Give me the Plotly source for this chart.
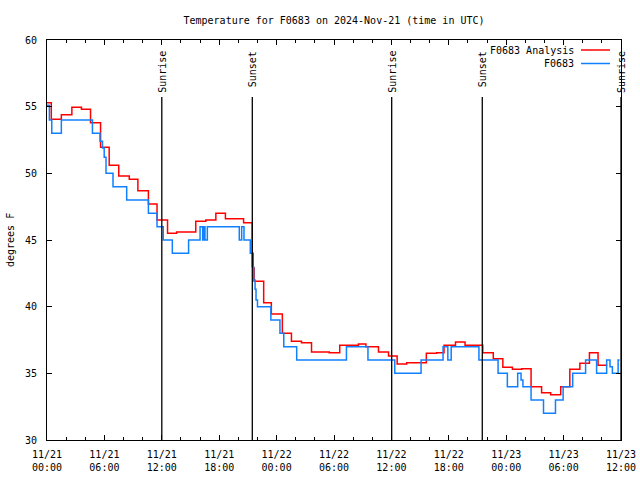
import pandas as pd
import plotly.graph_objects as go

# ---- data (hours after 2024-11-21 00:00 UTC) ----
ana_hours = [0, 0.45, 1.5, 2.6, 3.6, 4.55, 5.6, 6.5, 7.5, 8.6, 9.5, 10.6, 11.5, 12.6, 13.55,
             15.55, 16.6, 17.65, 18.65, 20.55, 21.45, 21.55, 21.65, 22.65, 23.45, 24.6, 25.55,
             26.6, 27.65, 29.5, 30.6, 32.55, 33.34, 34.65, 35.7, 36.6, 37.6, 39.65, 40.73, 41.5,
             42.7, 43.7, 45.55, 46.65, 47.65, 48.65, 49.62, 50.6, 51.7, 52.65, 53.7, 54.65,
             55.7, 56.7, 57.6, 58.57]
ana_temp = [55.3, 54.05, 54.4, 54.95, 54.8, 53.8, 51.95, 50.6, 49.8, 49.55, 48.7, 47.7, 46.5,
            45.5, 45.6, 46.4, 46.5, 47.0, 46.6, 46.3, 44.0, 42.9, 41.9, 40.3, 39.45, 38.0, 37.4,
            37.3, 36.6, 36.55, 37.1, 37.2, 37.0, 36.6, 36.3, 35.7, 35.8, 36.5, 36.55, 37.1,
            37.35, 37.1, 36.55, 36.1, 35.45, 35.3, 35.35, 34.0, 33.55, 33.4, 34.0, 35.3,
            35.75, 36.55, 35.6, 35.6]

obs_hours = [0, 0.25, 0.5, 1.5, 4.75, 5.54, 5.8, 5.98, 6.17, 6.9, 8.33, 10.6, 11.5, 12.15,
             13.1, 14.8, 16.0, 16.27, 16.41, 16.51, 16.76, 20.1, 20.35, 20.59, 21.25, 21.45,
             21.6, 21.75, 21.85, 22.0, 23.4, 24.35, 24.75, 26.1, 31.3, 33.55, 36.35, 39.1,
             41.4, 41.9, 42.25, 45.15, 47.15, 48.12, 49.2, 49.55, 49.75, 50.6, 51.9, 53.15,
             53.95, 54.95, 56.3, 57.45, 58.5, 58.85, 59.1, 59.7, 59.85]
obs_temp = [55.1, 54, 53, 54, 53, 52.4, 51.9, 51.2, 50, 49, 48, 47, 46, 45, 44, 45, 46, 45,
            46, 45, 46, 45, 46, 45, 44, 43, 42, 41.3, 40.5, 40, 39, 38, 37, 36, 37, 36, 35,
            36, 37, 36, 37, 36, 35, 34, 35, 34.5, 34, 33, 32, 33, 34, 35, 36, 35, 36, 35.5,
            35, 36, 36]

sun_hours = [12.0, 21.46, 36.03, 45.5, 60.0]
sun_labels = ["Sunrise", "Sunset", "Sunrise", "Sunset", "Sunrise"]

series_names = ["F0683 Analysis", "F0683"]
series_colors = ["#ff0000", "#1080ff"]

title_text = "Temperature for F0683 on 2024-Nov-21 (time in UTC)"
y_label = "degrees F"

t0 = pd.Timestamp("2024-11-21 00:00")
def to_time(hours):
    return [t0 + pd.Timedelta(hours=h) for h in hours]

FONT = "DejaVu Sans Mono"
LW = 1.5

fig = go.Figure()
fig.add_trace(go.Scatter(x=to_time(ana_hours), y=ana_temp, mode="lines", line_shape="hv",
                         line=dict(color=series_colors[0], width=LW), name=series_names[0]))
fig.add_trace(go.Scatter(x=to_time(obs_hours), y=obs_temp, mode="lines", line_shape="hv",
                         line=dict(color=series_colors[1], width=LW), name=series_names[1]))

# plot-area geometry in px (for paper conversion of decorations)
L, R, T, B = 47, 19, 40, 40
PW, PH = 640 - L - R, 480 - T - B

shapes = []
annotations = []
for h, lab in zip(sun_hours, sun_labels):
    tx = t0 + pd.Timedelta(hours=h)
    shapes.append(dict(type="line", xref="x", yref="paper", x0=tx, x1=tx,
                       y0=0, y1=(440 - 97) / PH, line=dict(color="black", width=1.3)))
    annotations.append(dict(x=tx, y=(440 - 49) / PH, xref="x", yref="paper", text=lab,
                            textangle=-90, showarrow=False, xanchor="center", yanchor="top",
                            xshift=1, font=dict(family=FONT, size=10, color="black")))

# legend (gnuplot style: text then sample)
for i, (nm, col) in enumerate(zip(series_names, series_colors)):
    py = 50 + 13.5 * i
    annotations.append(dict(x=(576 - L) / PW, y=(440 - py) / PH, xref="paper", yref="paper",
                            text=nm, showarrow=False, xanchor="right", yanchor="middle",
                            font=dict(family=FONT, size=10, color="black")))
    shapes.append(dict(type="line", xref="paper", yref="paper",
                       x0=(581 - L) / PW, x1=(610 - L) / PW,
                       y0=(440 - py) / PH, y1=(440 - py) / PH,
                       line=dict(color=col, width=LW)))

annotations.append(dict(x=(10 - L) / PW, y=0.5, xref="paper", yref="paper", text=y_label,
                        textangle=-90, showarrow=False, xanchor="center", yanchor="middle",
                        font=dict(family=FONT, size=10, color="black")))

fig.update_layout(
    width=640, height=480,
    margin=dict(l=L, r=R, t=T, b=B, autoexpand=False),
    paper_bgcolor="white", plot_bgcolor="white",
    showlegend=False,
    title=dict(text=title_text, x=(L + PW / 2) / 640, xanchor="center",
               y=1 - 20 / 480, yanchor="middle",
               font=dict(family=FONT, size=10, color="black")),
    font=dict(family=FONT, size=10, color="black"),
    shapes=shapes, annotations=annotations,
)
fig.update_xaxes(type="date", range=[t0, t0 + pd.Timedelta(hours=60)],
                 tick0=t0, dtick=6 * 3600 * 1000, tickformat="%m/%d<br>%H:%M",
                 showgrid=False, zeroline=False, showline=True, linecolor="black", linewidth=1,
                 mirror="ticks", ticks="inside", ticklen=5, tickcolor="black",
                 ticklabelstandoff=5,
                 minor=dict(dtick=2 * 3600 * 1000, ticks="inside", ticklen=3,
                            tickcolor="black", showgrid=False),
                 tickfont=dict(family=FONT, size=10, color="black"))
fig.update_yaxes(range=[30, 60], dtick=5, showgrid=False, zeroline=False, showline=True,
                 linecolor="black", linewidth=1, mirror="ticks", ticks="inside", ticklen=5,
                 tickcolor="black", ticklabelstandoff=7,
                 tickfont=dict(family=FONT, size=10, color="black"))

fig.write_html("out.html", config={"displayModeBar": False, "staticPlot": True},
               post_script="document.body.style.margin='0';document.body.style.padding='0';")
